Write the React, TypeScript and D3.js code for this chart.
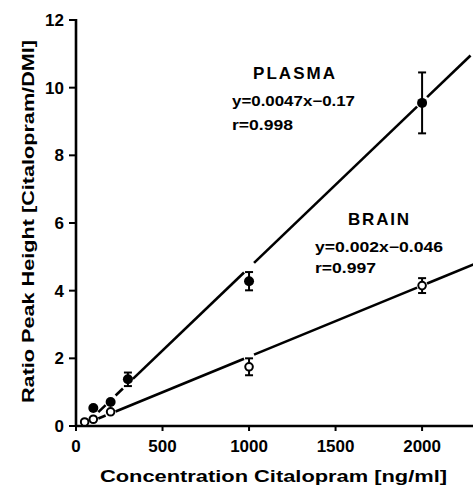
import React from "react";
import * as d3 from "d3";

// concentrations (ng/ml) and ratios
const plasmaX = [100, 200, 300, 1000, 2000];
const plasmaY = [0.53, 0.71, 1.38, 4.28, 9.55];
const plasmaErr = [0, 0, 0.2, 0.27, 0.9];

const brainX = [50, 100, 200, 1000, 2000];
const brainY = [0.12, 0.2, 0.42, 1.75, 4.15];
const brainErr = [0, 0, 0, 0.25, 0.22];

// drawn regression lines [slope, intercept]
const plasmaFit = [0.0049, -0.22];
const brainFit = [0.0021, -0.05];
const fitEnd = [2280, 2300];

const xTicks = [0, 500, 1000, 1500, 2000];
const yTicks = [0, 2, 4, 6, 8, 10, 12];

const W = 473;
const H = 490;
const font = "'Liberation Sans', Arial, sans-serif";

const x = d3.scaleLinear().domain([0, 2300]).range([76, 474]);
const y = d3.scaleLinear().domain([0, 12]).range([426, 20]);

// line split into pieces with small gaps at every data point
function fitSegments(fit: number[], xs: number[], end: number, gap: number) {
  const start = Math.max(0, -fit[1] / fit[0]);
  const breaks = [start, ...xs.filter((v) => v > start), end];
  const segs: [number, number][] = [];
  for (let i = 0; i < breaks.length - 1; i++) {
    const a = x(breaks[i]) + (i === 0 ? 0 : gap);
    const b = x(breaks[i + 1]) - (i === breaks.length - 2 ? 0 : gap);
    if (b > a) segs.push([x.invert(a), x.invert(b)]);
  }
  return segs;
}

function Series({ xs, ys, errs, fit, end, filled }: any) {
  const f = (v: number) => fit[0] * v + fit[1];
  const segs = fitSegments(fit, xs, end, 5);
  return (
    <g>
      {segs.map(([a, b], i) => (
        <line key={"s" + i} x1={x(a)} y1={y(f(a))} x2={x(b)} y2={y(f(b))}
          stroke="#000" strokeWidth={2.6} />
      ))}
      {xs.map((v: number, i: number) =>
        errs[i] > 0 ? (
          <g key={"e" + i} stroke="#000" strokeWidth={2}>
            <line x1={x(v)} x2={x(v)} y1={y(ys[i] - errs[i])} y2={y(ys[i] + errs[i])} />
            <line x1={x(v) - 4} x2={x(v) + 4} y1={y(ys[i] + errs[i])} y2={y(ys[i] + errs[i])} />
            <line x1={x(v) - 4} x2={x(v) + 4} y1={y(ys[i] - errs[i])} y2={y(ys[i] - errs[i])} />
          </g>
        ) : null
      )}
      {xs.map((v: number, i: number) =>
        filled ? (
          <circle key={"p" + i} cx={x(v)} cy={y(ys[i])} r={5} fill="#000" />
        ) : (
          <circle key={"p" + i} cx={x(v)} cy={y(ys[i])} r={3.8} fill="#fff"
            stroke="#000" strokeWidth={2} />
        )
      )}
    </g>
  );
}

export default function App() {
  return (
    <svg width={W} height={H} style={{ position: "absolute", left: 0, top: 0, background: "#fff" }}
      fontFamily={font} fontWeight="bold">
      {/* axes */}
      <line x1={x(0)} x2={x(0)} y1={y(12) - 1} y2={y(0) + 1} stroke="#000" strokeWidth={2.6} />
      <line x1={x(0) - 1} x2={W} y1={y(0)} y2={y(0)} stroke="#000" strokeWidth={2.6} />
      {yTicks.map((t) => (
        <g key={t}>
          <line x1={x(0) - 7} x2={x(0)} y1={y(t)} y2={y(t)} stroke="#000" strokeWidth={2} />
          <text x={64} y={y(t) + 6} textAnchor="end" fontSize={17}>{t}</text>
        </g>
      ))}
      {xTicks.map((t) => (
        <g key={t}>
          <line x1={x(t)} x2={x(t)} y1={y(0)} y2={y(0) + 5} stroke="#000" strokeWidth={2} />
          <text x={x(t)} y={452} textAnchor="middle" fontSize={17}>{t}</text>
        </g>
      ))}
      <text x={100} y={482} fontSize={16} textLength={347} lengthAdjust="spacingAndGlyphs">
        Concentration  Citalopram  [ng/ml]
      </text>
      <text transform="translate(34,403) rotate(-90)" fontSize={16} textLength={363}
        lengthAdjust="spacingAndGlyphs">
        Ratio  Peak  Height  [Citalopram/DMI]
      </text>

      <Series xs={plasmaX} ys={plasmaY} errs={plasmaErr} fit={plasmaFit} end={fitEnd[0]} filled />
      <Series xs={brainX} ys={brainY} errs={brainErr} fit={brainFit} end={fitEnd[1]} filled={false} />

      <text x={253} y={79} fontSize={17} textLength={82} lengthAdjust="spacing">PLASMA</text>
      <text x={232} y={106} fontSize={14} textLength={123} lengthAdjust="spacingAndGlyphs">y=0.0047x−0.17</text>
      <text x={232} y={130} fontSize={14} textLength={61} lengthAdjust="spacingAndGlyphs">r=0.998</text>
      <text x={348} y={225} fontSize={17} textLength={61} lengthAdjust="spacing">BRAIN</text>
      <text x={315} y={252} fontSize={14} textLength={128} lengthAdjust="spacingAndGlyphs">y=0.002x−0.046</text>
      <text x={315} y={273} fontSize={14} textLength={61} lengthAdjust="spacingAndGlyphs">r=0.997</text>
    </svg>
  );
}
